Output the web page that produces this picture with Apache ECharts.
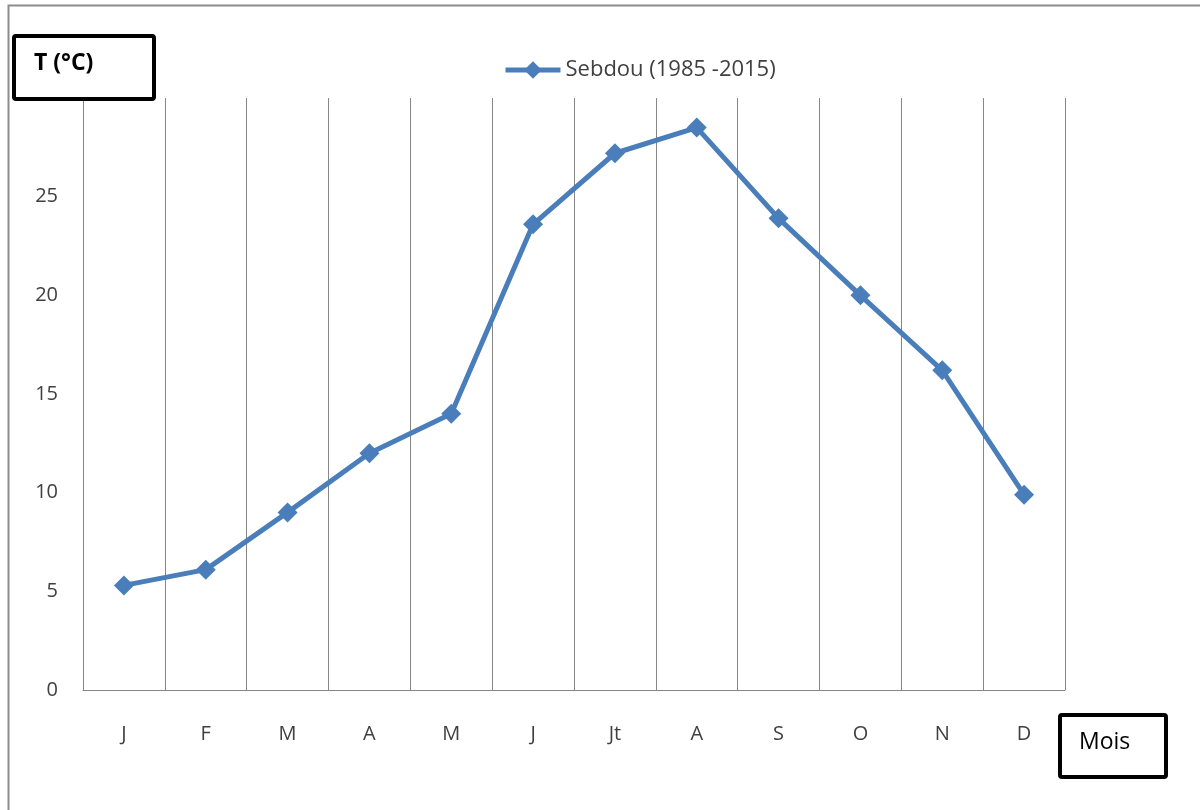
<!DOCTYPE html>
<html>
<head>
<meta charset="utf-8">
<script src="https://cdn.jsdelivr.net/npm/echarts@6/dist/echarts.min.js"></script>
<style>
  html, body { margin: 0; padding: 0; background: #fff; }
  #chart { width: 1200px; height: 810px; }
</style>
</head>
<body>
<div id="chart"></div>
<script>
// mois et températures moyennes (Sebdou 1985-2015)
var mois = ['J', 'F', 'M', 'A', 'M', 'J', 'Jt', 'A', 'S', 'O', 'N', 'D']
var temperatures = [5.3, 6.1, 9.0, 12.0, 14.0, 23.6, 27.2, 28.5, 23.9, 20.0, 16.2, 9.9]
var serieName = 'Sebdou (1985 -2015)'

var txtColor = '#404040'
var gridColor = '#868686'
var fontFam = '"Open Sans", "Noto Sans", sans-serif'

var myChart = echarts.init(document.getElementById('chart'))
var option = {
  animation: false,
  color: ['#4a7ebb'],
  grid: { left: 83, right: 135, top: 98, bottom: 120 },
  legend: {
    left: 498,
    top: 54,
    itemWidth: 55,
    itemHeight: 22,
    itemGap: 5,
    lineStyle: { width: 5 },
    textStyle: { fontSize: 22, color: txtColor, fontFamily: fontFam },
    data: [serieName],
  },
  xAxis: {
    type: 'category',
    data: mois,
    boundaryGap: true,
    axisLine: { lineStyle: { color: gridColor, width: 1 } },
    axisTick: { show: false },
    axisLabel: { margin: 34, fontSize: 20, color: txtColor, fontFamily: fontFam },
    splitLine: { show: true, lineStyle: { color: gridColor, width: 1 } },
  },
  yAxis: {
    type: 'value',
    min: 0,
    max: 30,
    interval: 5,
    axisLine: { show: true, lineStyle: { color: gridColor, width: 1 } },
    axisTick: { show: false },
    axisLabel: { margin: 25, fontSize: 20, color: txtColor, fontFamily: fontFam, showMaxLabel: false },
    splitLine: { show: false },
  },
  series: [
    {
      name: serieName,
      type: 'line',
      data: temperatures,
      symbol: 'diamond',
      symbolSize: 20,
      lineStyle: { width: 5 },
      itemStyle: { color: '#4a7ebb' },
    },
  ],
  graphic: [
    /* cadre extérieur gris */
    {
      type: 'rect',
      z: 0,
      silent: true,
      shape: { x: 8.5, y: 5.5, width: 1220, height: 830 },
      style: { fill: null, stroke: '#8c8c8c', lineWidth: 2 },
    },
    /* boîte T (°C) */
    {
      type: 'rect',
      z: 100,
      shape: { x: 14, y: 36, width: 140, height: 63, r: 2 },
      style: { fill: '#fff', stroke: '#000', lineWidth: 4 },
    },
    {
      type: 'text',
      z: 101,
      left: 34,
      top: 52,
      style: { text: 'T (°C)', fontSize: 23, fontWeight: 'bold', fill: '#000', fontFamily: fontFam },
    },
    /* boîte Mois */
    {
      type: 'rect',
      z: 100,
      shape: { x: 1060, y: 715, width: 106, height: 62, r: 2 },
      style: { fill: '#fff', stroke: '#000', lineWidth: 4 },
    },
    {
      type: 'text',
      z: 101,
      left: 1079,
      top: 731,
      style: { text: 'Mois', fontSize: 23, fill: '#000', fontFamily: fontFam },
    },
  ],
}
myChart.setOption(option)
</script>
</body>
</html>
